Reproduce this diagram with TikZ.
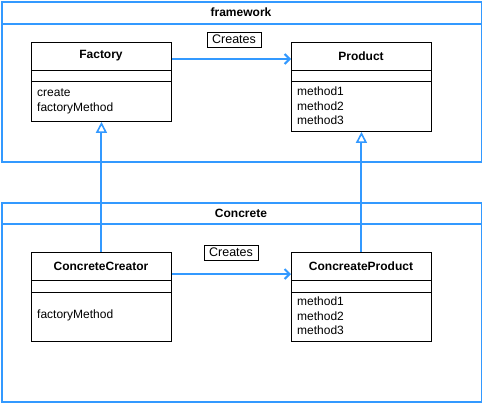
\documentclass[tikz,border=0pt]{standalone}
\usepackage{fontspec}
\setmainfont{Liberation Sans}
\usetikzlibrary{arrows.meta}
\definecolor{edgeblue}{RGB}{51,153,255}
\tikzset{
  frame/.style={draw=edgeblue, line width=2pt, rectangle, inner sep=0pt},
  cls/.style={draw=black, line width=0.9pt, rectangle, inner sep=0pt, fill=white},
  clsname/.style={font=\fontsize{12}{14}\selectfont\bfseries, inner sep=0pt},
  members/.style={font=\fontsize{12}{14.3}\selectfont, align=left, inner sep=0pt, anchor=west},
  lbl/.style={draw=black, line width=0.9pt, fill=white, font=\fontsize{12.5}{14}\selectfont, inner sep=0pt, minimum width=54pt, minimum height=15pt},
  assoc/.style={draw=edgeblue, line width=2pt, -{Straight Barb[length=5pt,width=10pt]}},
  inherit/.style={draw=edgeblue, line width=2pt, -{Triangle[open,length=11pt,width=11pt,line width=1.6pt,fill=white]}}
}
\begin{document}
\begin{tikzpicture}[x=1pt,y=-1pt]
\useasboundingbox (0,0) rectangle (482,402);
% packages
\node[frame, minimum width=480pt, minimum height=160pt, anchor=north west] (fw) at (1,1) {};
\draw[edgeblue, line width=2pt] (1,24) -- (481,24);
\node[clsname] (fwtitle) at (241,12.5) {framework};
\node[frame, minimum width=480pt, minimum height=199pt, anchor=north west] (con) at (1,202) {};
\draw[edgeblue, line width=2pt] (1,224) -- (481,224);
\node[clsname] (contitle) at (241,213) {Concrete};
% classes
\node[cls, minimum width=140pt, minimum height=79pt, anchor=north west] (fac) at (31,42) {};
\draw (31,70) -- (171,70) (31,81) -- (171,81);
\node[clsname] (facname) at (101,56) {Factory};
\node[members] (facm) at (37,101.5) {create\\factoryMethod};
\node[cls, minimum width=140pt, minimum height=89pt, anchor=north west] (prod) at (291,42) {};
\draw (291,70) -- (431,70) (291,81) -- (431,81);
\node[clsname] (prodname) at (361,56) {Product};
\node[members] (prodm) at (297,106) {method1\\method2\\method3};
\node[cls, minimum width=140pt, minimum height=89pt, anchor=north west] (cc) at (31,252) {};
\draw (31,280) -- (171,280) (31,292) -- (171,292);
\node[clsname] (ccname) at (101,266) {ConcreteCreator};
\node[members] (ccm) at (37,315) {factoryMethod};
\node[cls, minimum width=140pt, minimum height=89pt, anchor=north west] (cp) at (291,252) {};
\draw (291,280) -- (431,280) (291,292) -- (431,292);
\node[clsname] (cpname) at (361,266) {ConcreateProduct};
\node[members] (cpm) at (297,316) {method1\\method2\\method3};
% relations
\draw[assoc] ([yshift=-17pt]fac.north east) -- ([yshift=-17pt]prod.north west);
\node[lbl] (crt1) at (234,39.5) {Creates};
\draw[assoc] ([yshift=-22pt]cc.north east) -- ([yshift=-22pt]cp.north west);
\node[lbl] (crt2) at (231,252.5) {Creates};
\draw[inherit] (cc.north) -- (fac.south);
\draw[inherit] (cp.north) -- (prod.south);
\end{tikzpicture}
\end{document}
